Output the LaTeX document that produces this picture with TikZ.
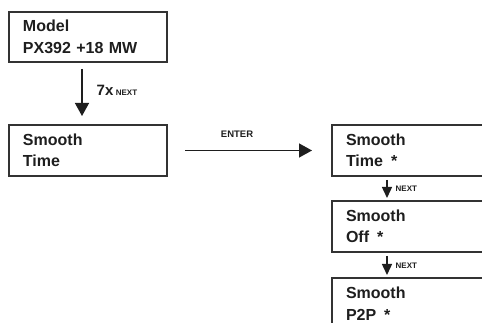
\documentclass[tikz,border=0pt]{standalone}
\usepackage{fontspec}
\setmainfont{Liberation Sans}
\usetikzlibrary{arrows.meta}
\definecolor{ink}{HTML}{1E1E1E}
\definecolor{edge}{HTML}{333333}
\newcommand\lcdline[1]{\hbox to 120pt{#1\hss}}
\newcommand\lcdstar{\hspace{8pt}*}
\tikzset{
  lcd/.style={draw=edge, line width=2pt, anchor=north west, inner xsep=14pt, inner ysep=0pt,
    minimum height=50pt, align=left, text=ink,
    font=\fontsize{16}{21.5}\selectfont\bfseries},
  arr/.style={draw=ink, line width=1.4pt, -{Triangle[width=14pt,length=13pt]}},
  sarr/.style={draw=ink, line width=1.4pt, -{Triangle[width=10pt,length=11pt]}},
  lab/.style={text=ink, font=\fontsize{8}{9}\selectfont\bfseries, inner sep=0pt},
}
\begin{document}
\begin{tikzpicture}[x=1pt,y=-1pt]
\useasboundingbox (0,0) rectangle (482,323);
\clip (0,0) rectangle (482,323);
\node[lcd, text width=130pt] (m1) at (8,11) {\lcdline{Model}\\\lcdline{PX392 +18 MW}};
\node[lcd, text width=130pt, minimum height=51pt] (m2) at (8,124) {\lcdline{Smooth}\\\lcdline{Time}};
\node[lcd, text width=160pt, minimum height=51pt] (r1) at (331,124) {\lcdline{Smooth}\\\lcdline{Time\lcdstar}};
\node[lcd, text width=160pt, minimum height=51pt] (r2) at (331,200) {\lcdline{Smooth}\\\lcdline{Off\lcdstar}};
\node[lcd, text width=160pt, minimum height=51pt] (r3) at (331,277) {\lcdline{Smooth}\\\lcdline{P2P\lcdstar}};
\draw[arr] ([xshift=-6pt,yshift=-6pt]m1.south) -- ([xshift=-6pt,yshift=8pt]m2.north)
  node[pos=0.45, right=14pt, inner sep=0pt, text=ink] {\fontsize{15}{16}\selectfont\bfseries 7x\hspace{2.5pt}{\fontsize{8}{9}\selectfont NEXT}};
\draw[arr] ([xshift=17pt]m2.east) -- ([xshift=-19pt]r1.west)
  node[lab, pos=0.41, above=12pt, font=\fontsize{9.5}{10}\selectfont\bfseries] {ENTER};
\draw[sarr] ([xshift=56pt,yshift=-3pt]r1.south west) -- ([xshift=56pt,yshift=2pt]r2.north west)
  node[lab, midway, right=8pt] {NEXT};
\draw[sarr] ([xshift=56pt,yshift=-3pt]r2.south west) -- ([xshift=56pt,yshift=2pt]r3.north west)
  node[lab, midway, right=8pt] {NEXT};
\end{tikzpicture}
\end{document}
